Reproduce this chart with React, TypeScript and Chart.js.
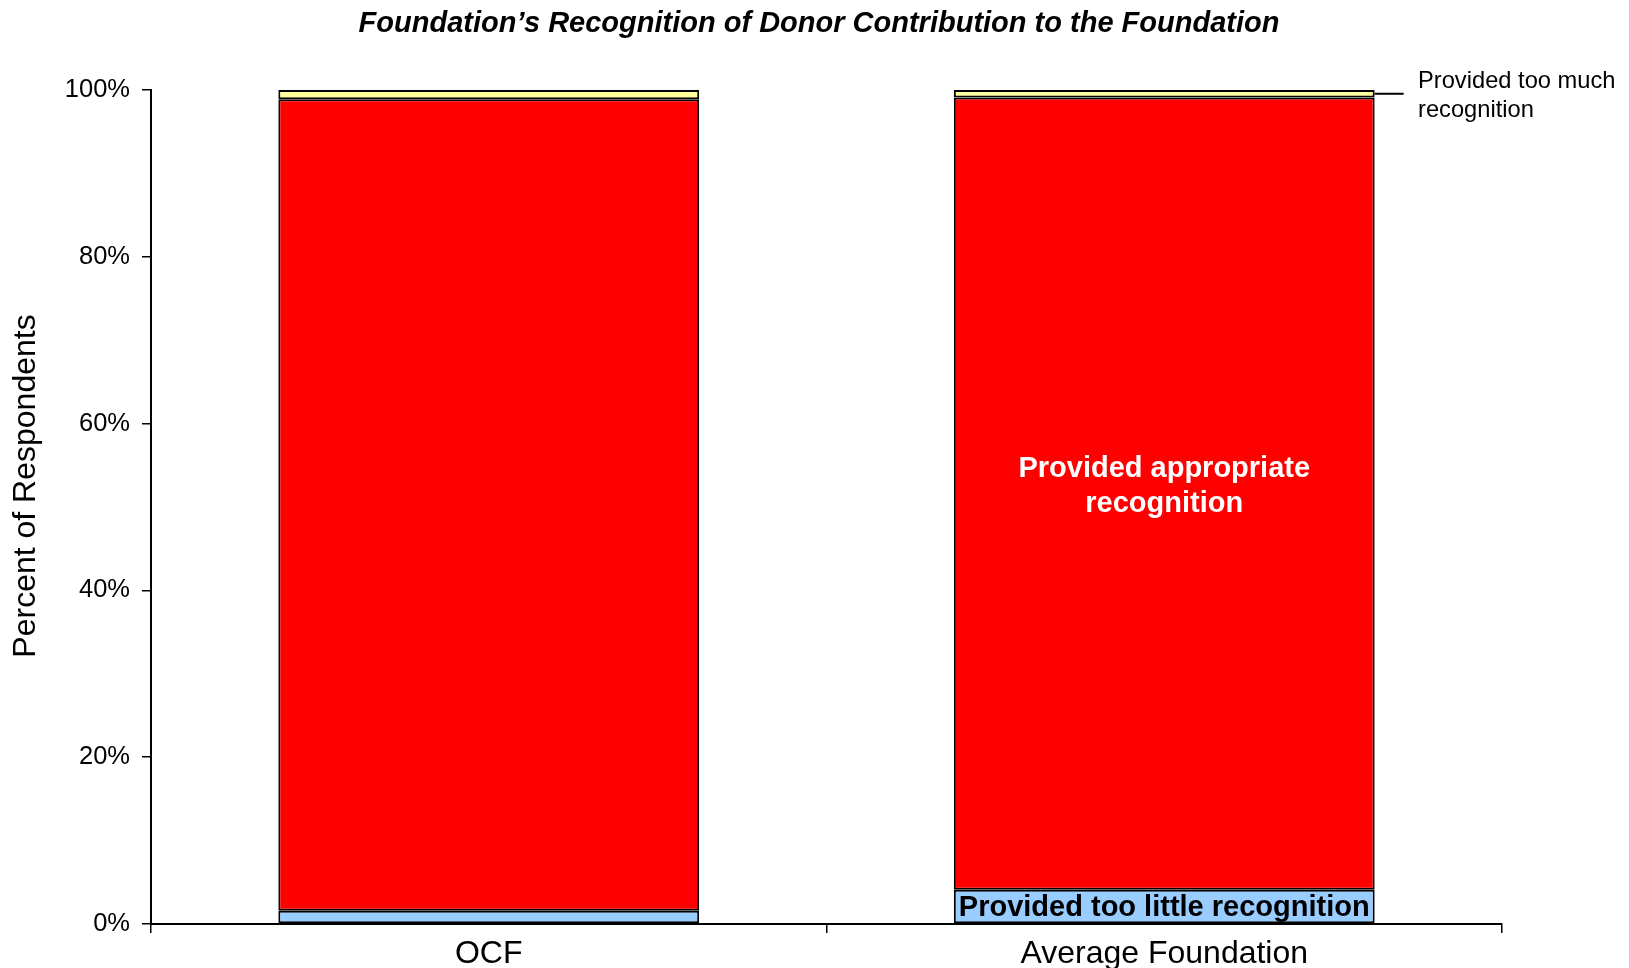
import React, { useEffect, useRef } from "react";
import { Chart, registerables } from "chart.js";

Chart.register(...registerables);

const categories = ["OCF", "Average Foundation"];
const tooLittle = [1.6, 4.1];
const appropriate = [97.3, 95.0];
const tooMuch = [1.1, 0.9];
const yTicks = [0, 20, 40, 60, 80, 100];

const titleText = "Foundation\u2019s Recognition of Donor Contribution to the Foundation";
const yTitle = "Percent of Respondents";
const FONT = "'Liberation Sans', Arial, sans-serif";

const labelPlugin = {
  id: "labels",
  afterDraw(chart: any) {
    const ctx = chart.ctx;
    ctx.save();
    // title
    ctx.fillStyle = "#000";
    ctx.font = `italic bold 29px ${FONT}`;
    ctx.textAlign = "center";
    ctx.textBaseline = "middle";
    ctx.fillText(titleText, 819, 24);
    // y title
    ctx.save();
    ctx.translate(26, 486);
    ctx.rotate(-Math.PI / 2);
    ctx.font = `32px ${FONT}`;
    ctx.fillText(yTitle, 0, 0);
    ctx.restore();

    const m0 = chart.getDatasetMeta(0).data;
    const m1 = chart.getDatasetMeta(1).data;
    const m2 = chart.getDatasetMeta(2).data;
    // appropriate label on second bar
    const b1 = m1[1];
    const cx = b1.x;
    const cy = (b1.y + b1.base) / 2;
    ctx.fillStyle = "#fff";
    ctx.font = `bold 29px ${FONT}`;
    ctx.fillText("Provided appropriate", cx, cy - 25);
    ctx.fillText("recognition", cx, cy + 10);
    // too little label
    const b0 = m0[1];
    ctx.fillStyle = "#000";
    ctx.fillText("Provided too little recognition", b0.x, (b0.y + b0.base) / 2 + 1);
    // too much label with leader
    const b2 = m2[1];
    const right = b2.x + b2.width / 2;
    const ly = (b2.y + b2.base) / 2;
    ctx.strokeStyle = "#000";
    ctx.lineWidth = 2;
    ctx.beginPath();
    ctx.moveTo(right, ly);
    ctx.lineTo(right + 29, ly);
    ctx.stroke();
    ctx.font = `23.7px ${FONT}`;
    ctx.textAlign = "left";
    ctx.fillText("Provided too much", 1418, 81);
    ctx.fillText("recognition", 1418, 110);
    ctx.restore();
  },
};

export default function App() {
  const ref = useRef<HTMLCanvasElement>(null);
  useEffect(() => {
    document.body.style.margin = "0";
    const common = {
      borderColor: "#000",
      borderWidth: 2,
      borderSkipped: false,
      barPercentage: 0.623,
      categoryPercentage: 1,
    };
    const chart = new Chart(ref.current!, {
      type: "bar",
      data: {
        labels: categories,
        datasets: [
          { label: "Provided too little recognition", data: tooLittle, backgroundColor: "#99CCFF", ...common },
          { label: "Provided appropriate recognition", data: appropriate, backgroundColor: "#FF0000", ...common },
          { label: "Provided too much recognition", data: tooMuch, backgroundColor: "#FFFF99", ...common },
        ],
      },
      options: {
        animation: false,
        responsive: true,
        maintainAspectRatio: false,
        layout: { padding: { top: 90, right: 127, left: 0, bottom: 0 } },
        plugins: { legend: { display: false }, tooltip: { enabled: false }, title: { display: false } },
        scales: {
          x: {
            stacked: true,
            grid: { display: true, drawOnChartArea: false, offset: true, tickLength: 9, color: "#000", lineWidth: 1.5 },
            border: { display: true, color: "#000", width: 2 },
            ticks: { color: "#000", font: { family: FONT, size: 32 }, padding: 2 },
            afterFit(scale: any) {
              scale.height = 44;
            },
          },
          y: {
            stacked: true,
            min: 0,
            max: 100,
            afterBuildTicks(scale: any) {
              scale.ticks = yTicks.map((v) => ({ value: v }));
            },
            grid: { display: true, drawOnChartArea: false, tickLength: 9, color: "#000", lineWidth: 1.5 },
            border: { display: true, color: "#000", width: 2 },
            ticks: {
              color: "#000",
              font: { family: FONT, size: 25.5 },
              padding: 12,
              callback: (v: any) => v + "%",
            },
            afterFit(scale: any) {
              scale.width = 151;
            },
          },
        },
      },
      plugins: [labelPlugin],
    });
    return () => chart.destroy();
  }, []);
  return (
    <div style={{ position: "fixed", left: 0, top: 0, width: 1629, height: 968, background: "#fff" }}>
      <canvas ref={ref} />
    </div>
  );
}
